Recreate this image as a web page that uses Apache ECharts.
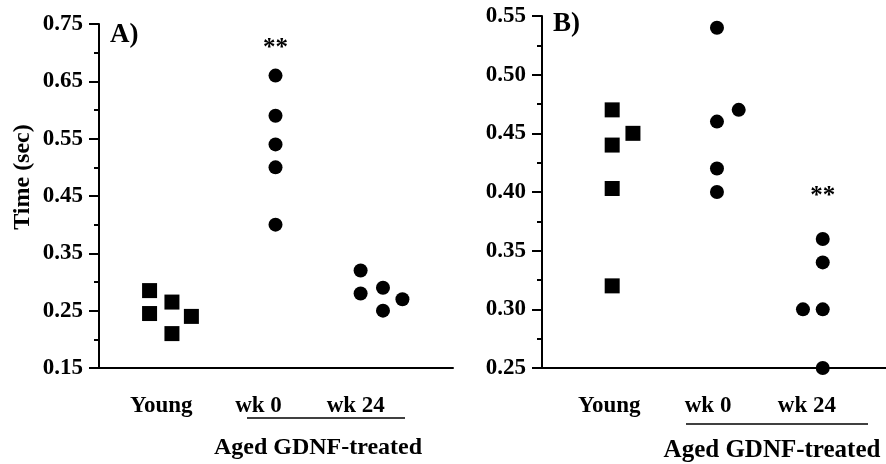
<!DOCTYPE html>
<html>
<head>
<meta charset="utf-8">
<script src="https://cdn.jsdelivr.net/npm/echarts@6/dist/echarts.min.js"></script>
<style>
  html, body { margin: 0; padding: 0; background: #fff; }
  #chart { width: 886px; height: 464px; }
</style>
</head>
<body>
<div id="chart"></div>
<script>
var groups = ['Young', 'wk 0', 'wk 24'];

// panel A, time (sec)
var youngA = [0.285, 0.245, 0.265, 0.21, 0.24];
var wk0A = [0.66, 0.59, 0.54, 0.50, 0.40];
var wk24A = [0.32, 0.28, 0.29, 0.25, 0.27];

// panel B, time (sec)
var youngB = [0.47, 0.44, 0.45, 0.403, 0.32];
var wk0B = [0.54, 0.46, 0.47, 0.42, 0.40];
var wk24B = [0.36, 0.34, 0.30, 0.30, 0.25];

// horizontal scatter of the dots inside a group (group units)
var youngJitA = [-0.12, -0.12, 0.11, 0.11, 0.31];
var wk0JitA = [0.175, 0.175, 0.175, 0.175, 0.175];
var wk24JitA = [0.05, 0.05, 0.28, 0.28, 0.48];
var youngJitB = [0.03, 0.03, 0.24, 0.03, 0.03];
var wk0JitB = [0.09, 0.09, 0.31, 0.09, 0.09];
var wk24JitB = [0.16, 0.16, -0.04, 0.16, 0.16];

var FONT = '"Liberation Serif", "Times New Roman", serif';

function pts(vals, jit, g) {
  return vals.map(function (v, i) { return [g + jit[i], v]; });
}

function xAxisFor(idx, min, max) {
  return {
    type: 'value', gridIndex: idx, min: min, max: max,
    splitLine: { show: false },
    axisLine: { show: true, lineStyle: { color: '#000', width: 2 } },
    axisTick: { show: false },
    axisLabel: {
      customValues: [1, 2, 3],
      formatter: function (v) { return groups[Math.round(v) - 1] || ''; },
      color: '#000', fontFamily: FONT, fontWeight: 'bold', fontSize: 23, margin: 27
    }
  };
}

function yAxisFor(idx, min, max, step, name) {
  return {
    type: 'value', gridIndex: idx, min: min, max: max, interval: step,
    name: name, nameLocation: 'middle', nameGap: 64, nameRotate: 90,
    nameTextStyle: { color: '#000', fontFamily: FONT, fontWeight: 'bold', fontSize: 24, padding: [0, 0, 0, 38] },
    splitLine: { show: false },
    axisLine: { show: true, lineStyle: { color: '#000', width: 2 } },
    axisTick: { show: true, length: 10, lineStyle: { color: '#000', width: 2 } },
    minorTick: { show: true, splitNumber: 2, length: 5, lineStyle: { color: '#000', width: 2 } },
    axisLabel: {
      formatter: function (v) { return v.toFixed(2); },
      color: '#000', fontFamily: FONT, fontWeight: 'bold', fontSize: 23, margin: 16
    }
  };
}

function dots(idx, data, square, star) {
  var s = {
    type: 'scatter', xAxisIndex: idx, yAxisIndex: idx,
    symbol: square ? 'rect' : 'circle', symbolSize: square ? 15 : 14,
    itemStyle: { color: '#000', opacity: 1 },
    data: data
  };
  if (star) {
    s.markPoint = {
      symbol: 'circle', symbolSize: 1,
      itemStyle: { color: 'rgba(0,0,0,0)' },
      label: { show: true, formatter: '**', color: '#000', fontFamily: FONT, fontWeight: 'bold', fontSize: 25 },
      data: [{ coord: star }]
    };
  }
  return s;
}

var chart = echarts.init(document.getElementById('chart'));
chart.setOption({
  backgroundColor: '#fff',
  animation: false,
  grid: [
    { left: 99, top: 24, width: 354, height: 344 },
    { left: 542, top: 16, width: 344, height: 352 }
  ],
  xAxis: [xAxisFor(0, 0.36, 4.0), xAxisFor(1, 0.32, 3.8)],
  yAxis: [yAxisFor(0, 0.15, 0.75, 0.1, 'Time (sec)'), yAxisFor(1, 0.25, 0.55, 0.05, '')],
  series: [
    dots(0, pts(youngA, youngJitA, 1), true),
    dots(0, pts(wk0A, wk0JitA, 2), false, [2.175, 0.707]),
    dots(0, pts(wk24A, wk24JitA, 3), false),
    dots(1, pts(youngB, youngJitB, 1), true),
    dots(1, pts(wk0B, wk0JitB, 2), false),
    dots(1, pts(wk24B, wk24JitB, 3), false, [3.16, 0.396])
  ],
  graphic: [
    { type: 'text', x: 110, y: 35, style: { text: 'A)', font: 'bold 27px ' + FONT, fill: '#000', textVerticalAlign: 'middle' } },
    { type: 'text', x: 553, y: 24, style: { text: 'B)', font: 'bold 27px ' + FONT, fill: '#000', textVerticalAlign: 'middle' } },
    { type: 'line', shape: { x1: 247, y1: 418, x2: 405, y2: 418 }, style: { stroke: '#000', lineWidth: 1.5 } },
    { type: 'line', shape: { x1: 686, y1: 424, x2: 868, y2: 424 }, style: { stroke: '#000', lineWidth: 1.5 } },
    { type: 'text', x: 318, y: 448, style: { text: 'Aged GDNF-treated', font: 'bold 24px ' + FONT, fill: '#000', textAlign: 'center', textVerticalAlign: 'middle' } },
    { type: 'text', x: 772, y: 451, style: { text: 'Aged GDNF-treated', font: 'bold 25px ' + FONT, fill: '#000', textAlign: 'center', textVerticalAlign: 'middle' } }
  ]
});

window.addEventListener('resize', function () { chart.resize(); });
</script>
</body>
</html>
